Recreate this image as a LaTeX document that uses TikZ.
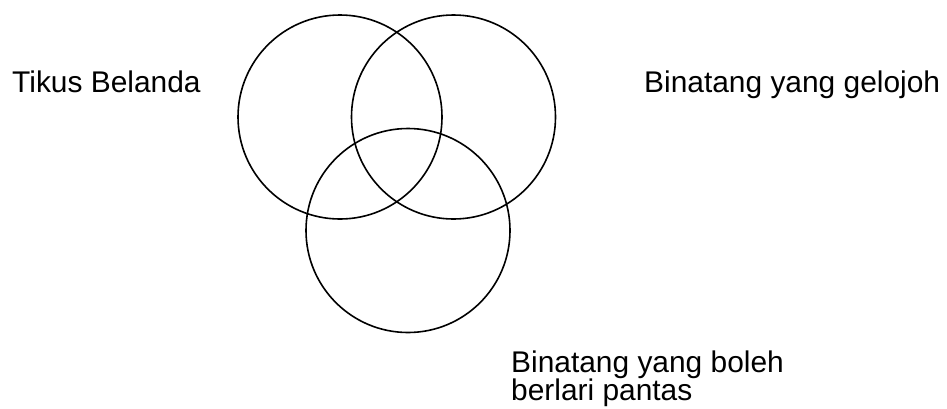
\documentclass[tikz,border=0pt]{standalone}
\usepackage{fontspec}
\setmainfont{Liberation Sans}
\begin{document}
\begin{tikzpicture}[x=1pt,y=-1pt,
  venn/.style={circle,draw=black,line width=1.6pt,minimum size=204pt,inner sep=0pt,outer sep=0pt},
  lbl/.style={anchor=base west,inner sep=0pt,font=\fontsize{29.9}{30}\selectfont}]
\useasboundingbox[fill=white] (0,0) rectangle (947,408);
\node[venn] (L) at (340,117) {};
\node[venn] (R) at (453.5,117) {};
\node[venn] (B) at (408,230.5) {};
\node[lbl] (tl) at (12,92) {Tikus Belanda};
\node[lbl] (tr) at (644,92) {Binatang yang gelojoh};
\node[lbl] (tb1) at (511,372) {Binatang yang boleh};
\node[lbl] (tb2) at (511,400.5) {berlari pantas};
\end{tikzpicture}
\end{document}
